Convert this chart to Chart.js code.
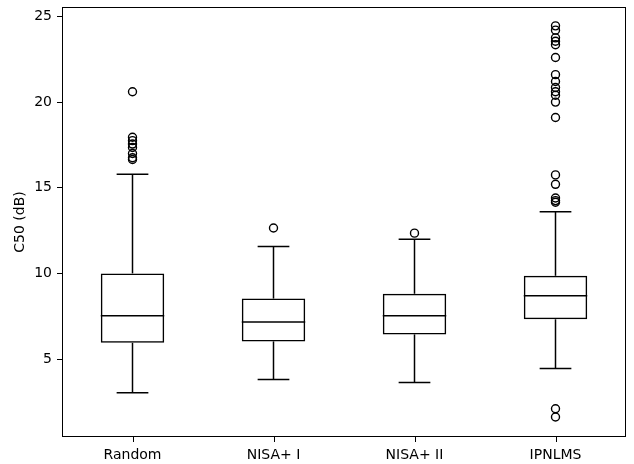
<!DOCTYPE html>
<html>
<head>
<meta charset="utf-8">
<script src="https://cdn.jsdelivr.net/npm/chart.js@4/dist/chart.umd.min.js"></script>
<style>
  html, body { margin: 0; padding: 0; background: #fff; overflow: hidden; }
  #wrap { width: 634px; height: 464px; position: relative; }
</style>
</head>
<body>
<div id="wrap"><canvas id="myChart"></canvas></div>
<script>
// box plot statistics
const categories = ['Random', 'NISA+ I', 'NISA+ II', 'IPNLMS'];
const q1 = [5.95, 6.03, 6.44, 7.32];
const median = [7.53, 7.17, 7.53, 8.69];
const q3 = [10.0, 8.53, 8.81, 9.86];
const whiskerLow = [3.04, 3.81, 3.63, 4.45];
const whiskerHigh = [15.79, 11.57, 12.0, 13.6];
const outliersRandom = [20.6, 17.95, 17.75, 17.55, 17.35, 17.0, 16.75, 16.65];
const outliersNisa1 = [12.65];
const outliersNisa2 = [12.35];
const outliersIpnlms = [24.45, 24.2, 23.75, 23.55, 23.35, 22.6, 21.6, 21.2, 20.85, 20.6, 20.4, 20.0, 19.1,
  15.75, 15.2, 14.4, 14.25, 14.15, 2.1, 1.62];
const yTicks = [5, 10, 15, 20, 25];

const outliers = [outliersRandom, outliersNisa1, outliersNisa2, outliersIpnlms];
const outlierPoints = [];
outliers.forEach((list, i) => {
  list.forEach(v => outlierPoints.push({ x: categories[i], y: v }));
});

const lineW = 1.5;
const font = { family: 'DejaVu Sans', size: 14 };

function seg(ctx, x1, y1, x2, y2) {
  ctx.beginPath();
  ctx.moveTo(x1, y1);
  ctx.lineTo(x2, y2);
  ctx.stroke();
}

// whiskers, caps and medians drawn with the chart's scales
const boxExtras = {
  id: 'boxExtras',
  afterDatasetsDraw(chart) {
    const { ctx, scales: { x, y } } = chart;
    const step = x.getPixelForValue(1) - x.getPixelForValue(0);
    const boxHalf = step * 0.45 / 2;
    const capHalf = boxHalf / 2;
    ctx.save();
    ctx.strokeStyle = '#000';
    ctx.lineWidth = lineW;
    categories.forEach((c, i) => {
      const cx = x.getPixelForValue(i);
      seg(ctx, cx, y.getPixelForValue(q3[i]), cx, y.getPixelForValue(whiskerHigh[i]));
      seg(ctx, cx, y.getPixelForValue(q1[i]), cx, y.getPixelForValue(whiskerLow[i]));
      seg(ctx, cx - capHalf, y.getPixelForValue(whiskerHigh[i]), cx + capHalf, y.getPixelForValue(whiskerHigh[i]));
      seg(ctx, cx - capHalf, y.getPixelForValue(whiskerLow[i]), cx + capHalf, y.getPixelForValue(whiskerLow[i]));
      seg(ctx, cx - boxHalf, y.getPixelForValue(median[i]), cx + boxHalf, y.getPixelForValue(median[i]));
    });
    ctx.restore();
  },
  afterDraw(chart) {
    const { ctx, scales: { x } } = chart;
    const a = chart.chartArea;
    ctx.save();
    ctx.strokeStyle = '#000';
    ctx.lineWidth = 1;
    ctx.strokeRect(a.left + 0.5, a.top + 0.5, a.right - a.left - 1, a.bottom - a.top - 1);
    ctx.fillStyle = '#000';
    categories.forEach((c, i) => {
      const cx = Math.round(x.getPixelForValue(i));
      ctx.fillRect(cx, a.bottom, 1, 5);
    });
    ctx.restore();
  }
};

const ctx = document.getElementById('myChart').getContext('2d');
const myChart = new Chart(ctx, {
  data: {
    labels: categories,
    datasets: [{
      type: 'bar',
      data: q1.map((v, i) => [v, q3[i]]),
      backgroundColor: 'rgba(0,0,0,0)',
      borderColor: '#000',
      borderWidth: lineW,
      borderSkipped: false,
      categoryPercentage: 1,
      barPercentage: 0.45,
    }, {
      type: 'line',
      data: outlierPoints,
      showLine: false,
      pointStyle: 'circle',
      pointRadius: 4,
      pointBorderWidth: 1.4,
      pointBorderColor: '#000',
      pointBackgroundColor: 'rgba(0,0,0,0)',
    }],
  },
  options: {
    responsive: true,
    maintainAspectRatio: false,
    animation: false,
    layout: { padding: { top: 7, right: 8, left: 0, bottom: 0 } },
    plugins: { legend: { display: false }, tooltip: { enabled: false } },
    scales: {
      x: {
        type: 'category',
        offset: true,
        grid: { display: false },
        border: { display: false },
        ticks: { color: '#000', font: font, padding: 2, maxRotation: 0 },
        afterFit: scale => {
          scale.height = 27;
          scale.paddingLeft = 0;
          scale.paddingRight = 0;
        },
      },
      y: {
        min: 0.45,
        max: 25.55,
        afterBuildTicks: axis => { axis.ticks = yTicks.map(v => ({ value: v })); },
        grid: { drawOnChartArea: false, drawTicks: true, tickLength: 5, color: '#000' },
        border: { display: false },
        ticks: { color: '#000', font: font, padding: 5 },
        title: { display: true, text: 'C50 (dB)', color: '#000', font: font, padding: { top: 12, bottom: 0 } },
        afterFit: scale => {
          scale.width = 62;
          scale.paddingTop = 0;
          scale.paddingBottom = 0;
        },
      },
    },
  },
  plugins: [boxExtras],
});
</script>
</body>
</html>
